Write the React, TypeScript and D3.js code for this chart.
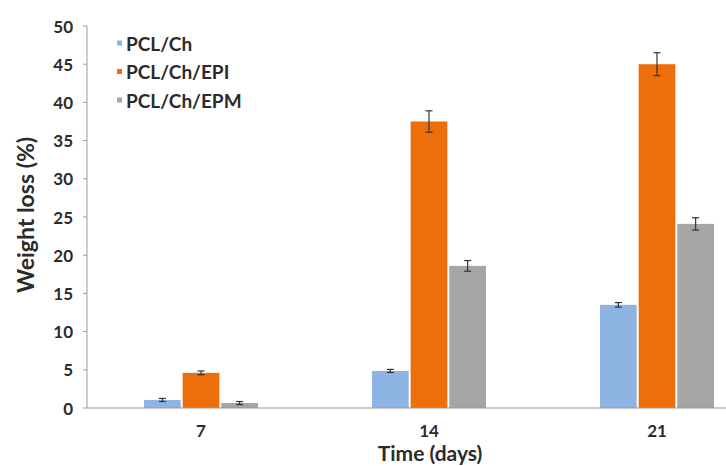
import React from "react";
import * as d3 from "d3";

const categories = ["7", "14", "21"];
const seriesNames = ["PCL/Ch", "PCL/Ch/EPI", "PCL/Ch/EPM"];
const seriesColors = ["#8EB4E3", "#EC6F0C", "#A5A5A5"];
const valuesPCLCh = [1.05, 4.85, 13.5];
const valuesEPI = [4.6, 37.5, 45.0];
const valuesEPM = [0.65, 18.6, 24.1];
const errPCLCh = [0.2, 0.2, 0.3];
const errEPI = [0.25, 1.4, 1.5];
const errEPM = [0.2, 0.7, 0.8];
const yTicks = [0, 5, 10, 15, 20, 25, 30, 35, 40, 45, 50];

const W = 726;
const H = 466;
const FONT = "Lato, 'Open Sans', sans-serif";

export default function App() {
  const values = [valuesPCLCh, valuesEPI, valuesEPM];
  const errs = [errPCLCh, errEPI, errEPM];
  const left = 87;
  const y = d3.scaleLinear().domain([0, 50]).range([408, 26]);
  const x0 = d3.scaleBand<string>().domain(categories).range([left, left + 3 * 228]).padding(0);
  const groupW = 114;
  const x1 = d3.scaleBand<string>().domain(seriesNames).range([0, groupW]).paddingInner(0.05);

  return (
    <svg width={W} height={H} style={{ position: "absolute", left: 0, top: 0, background: "#fff" }}>
      {/* y axis */}
      <line x1={left} x2={left} y1={y(50)} y2={y(0)} stroke="#9a9a9a" strokeWidth={1} />
      {yTicks.map((t) => (
        <g key={t}>
          <line x1={left - 4} x2={left} y1={y(t)} y2={y(t)} stroke="#9a9a9a" strokeWidth={1} />
          <text
            x={left - 14}
            y={y(t)}
            textAnchor="end"
            dominantBaseline="central"
            fontFamily={FONT}
            fontWeight="bold"
            fontSize={17}
            fill="#2b2b2b"
          >
            {t}
          </text>
        </g>
      ))}
      {/* bars */}
      {categories.map((c, ci) => {
        const gx = (x0(c) as number) + (x0.bandwidth() - groupW) / 2;
        return (
          <g key={c} transform={`translate(${gx},0)`}>
            {seriesNames.map((s, si) => {
              const v = values[si][ci];
              const e = errs[si][ci];
              const bx = x1(s) as number;
              const bw = x1.bandwidth();
              const cx = bx + bw / 2;
              return (
                <g key={s}>
                  <rect x={bx} y={y(v)} width={bw} height={y(0) - y(v)} fill={seriesColors[si]} />
                  <line x1={cx} x2={cx} y1={y(v + e)} y2={y(v - e)} stroke="#333" strokeWidth={1.2} />
                  <line x1={cx - 3.5} x2={cx + 3.5} y1={y(v + e)} y2={y(v + e)} stroke="#333" strokeWidth={1.2} />
                  <line x1={cx - 3.5} x2={cx + 3.5} y1={y(v - e)} y2={y(v - e)} stroke="#333" strokeWidth={1.2} />
                </g>
              );
            })}
          </g>
        );
      })}
      {/* x axis */}
      <line x1={left} x2={W} y1={y(0)} y2={y(0)} stroke="#9a9a9a" strokeWidth={1.2} />
      {categories.map((c) => (
        <text
          key={c}
          x={(x0(c) as number) + x0.bandwidth() / 2}
          y={430}
          textAnchor="middle"
          dominantBaseline="central"
          fontFamily={FONT}
          fontWeight="bold"
          fontSize={17}
          fill="#2b2b2b"
        >
          {c}
        </text>
      ))}
      <text
        x={430}
        y={452}
        textAnchor="middle"
        dominantBaseline="central"
        fontFamily={FONT}
        fontWeight="bold"
        fontSize={21}
        fill="#2b2b2b"
      >
        Time (days)
      </text>
      <text
        transform={`translate(25,${215}) rotate(-90)`}
        textAnchor="middle"
        dominantBaseline="central"
        fontFamily={FONT}
        fontWeight="bold"
        fontSize={23}
        fill="#2b2b2b"
      >
        Weight loss (%)
      </text>
      {/* legend */}
      {seriesNames.map((s, i) => {
        const ly = 43 + i * 28.5;
        return (
          <g key={s}>
            <rect x={117} y={ly - 2.5} width={5} height={5} fill={seriesColors[i]} />
            <text
              x={126}
              y={ly}
              dominantBaseline="central"
              fontFamily={FONT}
              fontWeight="bold"
              fontSize={19}
              fill="#2b2b2b"
            >
              {s}
            </text>
          </g>
        );
      })}
    </svg>
  );
}
